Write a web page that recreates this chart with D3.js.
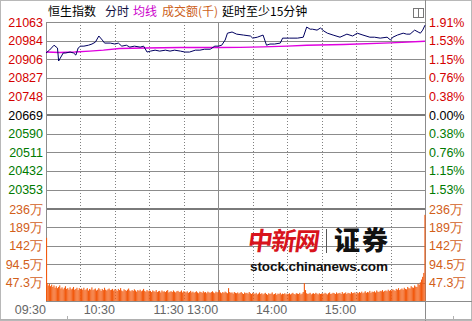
<!DOCTYPE html>
<html><head><meta charset="utf-8">
<script src="https://cdn.jsdelivr.net/npm/d3@7/dist/d3.min.js"></script>
<style>
html,body{margin:0;padding:0;background:#fff;}
svg{display:block;}
text{font-family:"Liberation Sans",Arial,sans-serif;}
.cjk{font-family:"Noto Sans CJK SC","Noto Sans",sans-serif;}
</style></head>
<body>
<svg id="chart" width="472" height="321"></svg>
<script>
// ---- data ----
const prevClose = 20669;
const priceTicks = [21063, 20984, 20906, 20827, 20748, 20669, 20590, 20511, 20432, 20353];
const pctLabels = ["1.91%", "1.53%", "1.15%", "0.76%", "0.38%", "0.00%", "0.38%", "0.76%", "1.15%", "1.53%"];
const volTicks = [47.3, 94.5, 142, 189, 236];
const volTickLabels = ["47.3万", "94.5万", "142万", "189万", "236万"];
const timeTickMin = [0, 60, 120, 150, 210, 270];
const timeLabels = ["09:30", "10:30", "11:30", "13:00", "14:00", "15:00"];
const gridMin = [30, 60, 90, 120, 180, 210, 240, 270, 300];

// minutes since open (12:00-13:00 lunch removed), index value
const priceMin = [0,3,7,10,11,13,15,17,21,24,26,28,30,33,37,40,43,46,49,51,56,60,63,66,70,73,77,82,85,88,91,95,99,104,108,112,117,121,125,130,134,138,143,147,150,153,156,158,162,166,172,178,180,184,189,192,195,199,204,206,212,219,224,227,230,232,236,239,242,245,250,256,262,267,271,276,282,286,291,297,300,302,306,311,314,317,321,324,326,328,330];
const priceVal = [20932,20944,20965,20953,20898,20915,20932,20932,20936,20932,20923,20953,20961,20961,20965,20970,20978,21004,20987,20974,20974,20970,20974,20961,20965,20957,20961,20957,20961,20936,20940,20944,20940,20944,20940,20944,20940,20936,20936,20944,20944,20948,20948,20961,20961,20965,20987,21016,21021,21012,21008,21004,20995,20999,21008,20965,20970,20970,20974,20995,20995,20995,20999,21042,21033,21033,21029,21038,21025,21016,21008,20999,21012,21004,21016,21008,20999,20999,20995,20999,20987,20999,21008,21016,21012,21012,21029,21021,21016,21029,21050];
const avgMin = [0,12,25,38,50,64,86,117,150,169,189,210,227,259,300,330];
const avgVal = [20936,20934,20936,20940,20944,20951,20953,20955,20955,20956,20958,20961,20965,20968,20975,20982];
// per-minute turnover (万)
const volume = [162,
46,40,44,38,42,36,40,34,38,33,36,40,32,35,30,34,38,31,33,29,35,30,32,36,29,31,34,28,33,30,
32,29,34,28,30,33,27,31,29,35,28,30,32,27,29,33,30,26,31,28,34,29,27,30,32,28,29,31,27,30,
29,26,31,28,33,27,25,30,28,26,29,32,27,25,28,26,30,27,24,28,26,29,25,27,31,26,24,28,25,27,
26,23,27,25,24,28,23,25,26,22,27,24,25,23,26,28,22,24,25,23,27,24,22,25,26,23,24,27,22,25,
24,22,25,21,23,26,22,24,21,23,25,22,20,24,23,21,25,22,23,20,24,22,21,23,25,22,20,24,22,23,
28,22,20,23,21,24,22,20,33,23,21,22,19,23,21,20,22,19,21,23,20,18,22,20,21,19,23,20,18,21,
20,18,21,17,19,22,18,20,17,19,21,18,16,20,18,19,22,17,18,20,16,19,18,21,17,19,18,20,17,19,
18,20,17,19,21,18,17,20,19,18,21,17,19,23,46,28,20,18,19,21,17,19,20,18,21,19,17,20,18,19,
20,18,21,19,17,20,22,18,19,21,20,18,22,19,20,21,18,23,19,20,22,18,21,20,19,23,20,21,22,19,
22,20,23,21,24,20,22,25,21,23,22,26,21,24,23,25,22,27,24,23,26,25,28,24,26,27,25,29,26,28,
27,30,28,26,31,29,33,28,30,32,29,34,31,30,36,33,32,38,35,34,40,37,36,44,42,48,55,62,72,
221];

// ---- layout ----
const L = 46, R = 425, PT = 22, PB = 208, VT = 209, VB = 301;
const step = (priceTicks[0] - priceTicks[priceTicks.length - 1]) / (priceTicks.length - 1);
const svg = d3.select("#chart");
const x = d3.scaleLinear().domain([0, 330]).range([L, R]);
const y = d3.scaleLinear().domain([prevClose - 5 * step, prevClose + 5 * step]).range([PB, PT]);
const yv = d3.scaleLinear().domain([0, 236]).range([VB, VT]);

const red = "#d40000", green = "#007a00", orange = "#d2601a", gridC = "#8c8c8c";

// outer frame
svg.append("rect").attr("x", 0.5).attr("y", 0.5).attr("width", 471).attr("height", 320)
  .attr("fill", "none").attr("stroke", "#b8b8b8");

// horizontal grid (price)
svg.append("g").selectAll("line").data(priceTicks.concat([prevClose - 5 * step])).join("line")
  .attr("x1", L).attr("x2", R)
  .attr("y1", d => Math.round(y(d)) + 0.5).attr("y2", d => Math.round(y(d)) + 0.5)
  .attr("stroke", gridC).attr("stroke-width", 1);
svg.append("line").attr("x1", L).attr("x2", R)
  .attr("y1", Math.round(y(prevClose))).attr("y2", Math.round(y(prevClose)))
  .attr("stroke", "#7a7a7a").attr("stroke-width", 2);
// volume grid
svg.append("g").selectAll("line").data(volTicks.slice(0, 4)).join("line")
  .attr("x1", L).attr("x2", R)
  .attr("y1", d => Math.round(yv(d)) + 0.5).attr("y2", d => Math.round(yv(d)) + 0.5)
  .attr("stroke", gridC);
svg.append("line").attr("x1", L).attr("x2", R).attr("y1", VT).attr("y2", VT)
  .attr("stroke", "#7a7a7a").attr("stroke-width", 2);
svg.append("line").attr("x1", L).attr("x2", 472).attr("y1", VB + 0.5).attr("y2", VB + 0.5)
  .attr("stroke", gridC);

// vertical grid
svg.append("g").selectAll("line").data(gridMin).join("line")
  .attr("x1", d => Math.round(x(d)) + 0.5).attr("x2", d => Math.round(x(d)) + 0.5)
  .attr("y1", PT).attr("y2", VB)
  .attr("stroke", "#808080").attr("stroke-dasharray", "1,2");
svg.append("line").attr("x1", Math.round(x(150)) + 0.5).attr("x2", Math.round(x(150)) + 0.5)
  .attr("y1", PT).attr("y2", VB).attr("stroke", gridC);
// frame verticals
svg.append("line").attr("x1", L + 0.5).attr("x2", L + 0.5).attr("y1", PT).attr("y2", VB).attr("stroke", gridC);
svg.append("line").attr("x1", R + 0.5).attr("x2", R + 0.5).attr("y1", 0).attr("y2", 321).attr("stroke", gridC);
svg.append("line").attr("x1", 0).attr("x2", 472).attr("y1", 319.5).attr("y2", 319.5).attr("stroke", "#b0b0b0");
svg.append("line").attr("x1", 67.5).attr("x2", 67.5).attr("y1", 316).attr("y2", 320).attr("stroke", "#b0b0b0");
svg.append("line").attr("x1", 453.5).attr("x2", 453.5).attr("y1", 316).attr("y2", 320).attr("stroke", "#b0b0b0");

// watermark
const wm = svg.append("g");
wm.append("text").attr("class", "cjk").attr("x", 248).attr("y", 250)
  .attr("font-size", 25).attr("font-weight", "bold").attr("fill", "#d8141c")
  .attr("textLength", 72).attr("transform", "skewX(-8) translate(34,0)").text("中新网");
wm.append("line").attr("x1", 326.5).attr("x2", 326.5).attr("y1", 229).attr("y2", 253)
  .attr("stroke", "#555").attr("stroke-width", 1);
wm.append("text").attr("class", "cjk").attr("x", 334).attr("y", 250)
  .attr("font-size", 26).attr("font-weight", "900").attr("fill", "#111")
  .attr("textLength", 54).text("证券");
wm.append("text").attr("x", 250).attr("y", 271)
  .attr("font-size", 13.5).attr("font-weight", "bold").attr("fill", "#111")
  .attr("textLength", 138).text("stock.chinanews.com");

// volume bars
svg.append("g").selectAll("rect").data(volume).join("rect")
  .attr("x", (d, i) => x(i) - (i === 0 ? 0 : 0.6))
  .attr("width", 1.1)
  .attr("y", d => yv(d)).attr("height", d => VB - yv(d))
  .attr("fill", "#f25a0f");

// average line
const avgData = avgMin.map((m, i) => [m, avgVal[i]]);
svg.append("path").datum(avgData)
  .attr("d", d3.line().x(d => x(d[0])).y(d => y(d[1])))
  .attr("fill", "none").attr("stroke", "#e000e0").attr("stroke-width", 1.4);
// price line
const pData = priceMin.map((m, i) => [m, priceVal[i]]);
svg.append("path").datum(pData)
  .attr("d", d3.line().x(d => x(d[0])).y(d => y(d[1])))
  .attr("fill", "none").attr("stroke", "#000060").attr("stroke-width", 1);

// left price labels
const pColor = (d) => d > prevClose ? red : (d < prevClose ? green : "#000");
svg.append("g").selectAll("text").data(priceTicks).join("text")
  .attr("x", 43).attr("y", d => y(d)).attr("dy", "0.36em")
  .attr("text-anchor", "end").attr("font-size", 12.5)
  .attr("fill", pColor).text(d => d);
// right percent labels
svg.append("g").selectAll("text").data(priceTicks).join("text")
  .attr("x", 429).attr("y", d => y(d)).attr("dy", "0.36em")
  .attr("font-size", 12.5).attr("fill", pColor).text((d, i) => pctLabels[i]);
// volume labels
svg.append("g").selectAll("text").data(volTicks).join("text")
  .attr("class", "vl")
  .attr("x", 43).attr("y", d => yv(d)).attr("dy", "0.36em")
  .attr("text-anchor", "end").attr("font-size", 12.5).attr("fill", orange)
  .text((d, i) => volTickLabels[i]);
svg.append("g").selectAll("text").data(volTicks).join("text")
  .attr("x", 429).attr("y", d => yv(d)).attr("dy", "0.36em")
  .attr("font-size", 12.5).attr("fill", orange)
  .text((d, i) => volTickLabels[i]);

// time labels
svg.append("g").selectAll("text").data(timeTickMin).join("text")
  .attr("x", d => x(d)).attr("y", 314)
  .attr("text-anchor", "end").attr("font-size", 12.5).attr("fill", "#666")
  .text((d, i) => timeLabels[i]);

// title
const title = [
  {t: "恒生指数", x: 48, c: "#000"},
  {t: "分时", x: 105, c: "#101040"},
  {t: "均线", x: 133, c: "#cc00cc"},
  {t: "成交额(千)", x: 162, c: "#cc6020"},
  {t: "延时至少15分钟", x: 222, c: "#000"}
];
svg.append("g").selectAll("text").data(title).join("text")
  .attr("class", "cjk").attr("x", d => d.x).attr("y", 16)
  .attr("font-size", 12).attr("fill", d => d.c).text(d => d.t);
// small icon
svg.append("rect").attr("x", 413.5).attr("y", 8.5).attr("width", 10).attr("height", 9)
  .attr("fill", "none").attr("stroke", "#777");
svg.append("line").attr("x1", 418.5).attr("x2", 418.5).attr("y1", 8.5).attr("y2", 17.5).attr("stroke", "#777");
</script>
</body></html>
